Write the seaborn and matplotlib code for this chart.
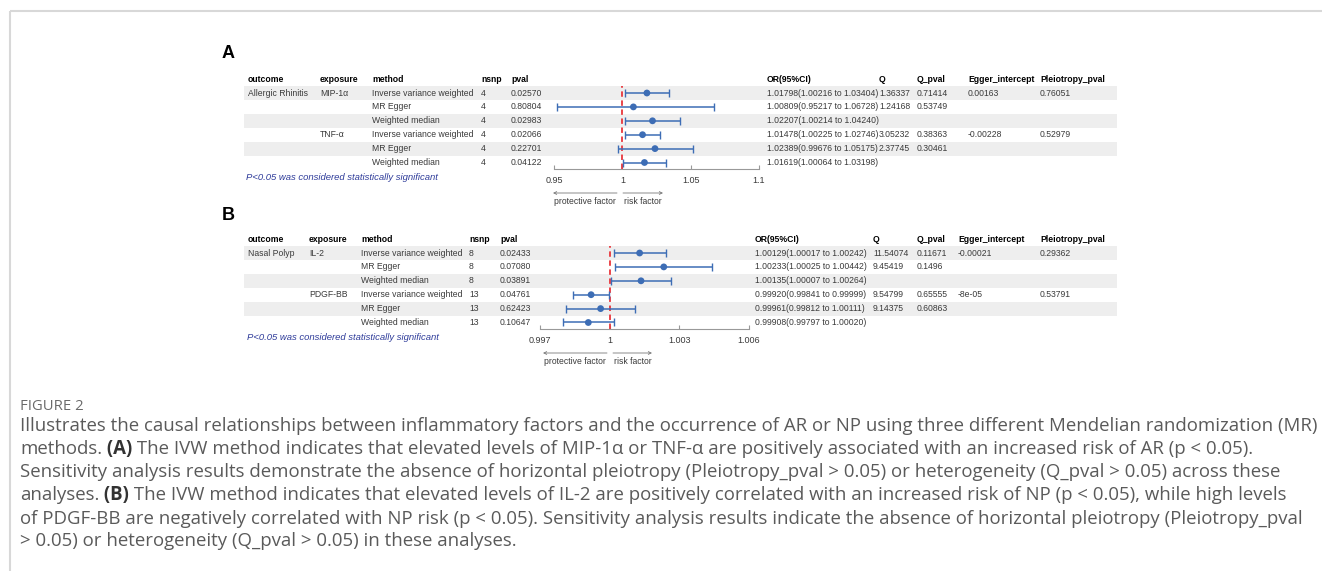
import numpy as np
import pandas as pd
import matplotlib
matplotlib.use("Agg")
import matplotlib.pyplot as plt
import seaborn as sns

# ---------------- data ----------------
# Panel A
a_outcome = ["Allergic Rhinitis", "", "", "", "", ""]
a_exposure = ["MIP-1α", "", "", "TNF-α", "", ""]
a_method = ["Inverse variance weighted", "MR Egger", "Weighted median",
            "Inverse variance weighted", "MR Egger", "Weighted median"]
a_nsnp = ["4", "4", "4", "4", "4", "4"]
a_pval = ["0.02570", "0.80804", "0.02983", "0.02066", "0.22701", "0.04122"]
a_or = [1.01798, 1.00809, 1.02207, 1.01478, 1.02389, 1.01619]
a_lo = [1.00216, 0.95217, 1.00214, 1.00225, 0.99676, 1.00064]
a_hi = [1.03404, 1.06728, 1.04240, 1.02746, 1.05175, 1.03198]
a_q = ["1.36337", "1.24168", "", "3.05232", "2.37745", ""]
a_qp = ["0.71414", "0.53749", "", "0.38363", "0.30461", ""]
a_egger = ["0.00163", "", "", "-0.00228", "", ""]
a_pleio = ["0.76051", "", "", "0.52979", "", ""]
a_ticks = [0.95, 1.0, 1.05, 1.1]
a_ticklabels = ["0.95", "1", "1.05", "1.1"]

# Panel B
b_outcome = ["Nasal Polyp", "", "", "", "", ""]
b_exposure = ["IL-2", "", "", "PDGF-BB", "", ""]
b_method = ["Inverse variance weighted", "MR Egger", "Weighted median",
            "Inverse variance weighted", "MR Egger", "Weighted median"]
b_nsnp = ["8", "8", "8", "13", "13", "13"]
b_pval = ["0.02433", "0.07080", "0.03891", "0.04761", "0.62423", "0.10647"]
b_or = [1.00129, 1.00233, 1.00135, 0.99920, 0.99961, 0.99908]
b_lo = [1.00017, 1.00025, 1.00007, 0.99841, 0.99812, 0.99797]
b_hi = [1.00242, 1.00442, 1.00264, 0.99999, 1.00111, 1.00020]
b_q = ["11.54074", "9.45419", "", "9.54799", "9.14375", ""]
b_qp = ["0.11671", "0.1496", "", "0.65555", "0.60863", ""]
b_egger = ["-0.00021", "", "", "-8e-05", "", ""]
b_pleio = ["0.29362", "", "", "0.53791", "", ""]
b_ticks = [0.997, 1.0, 1.003, 1.006]
b_ticklabels = ["0.997", "1", "1.003", "1.006"]

headers = ["outcome", "exposure", "method", "nsnp", "pval",
           "OR(95%CI)", "Q", "Q_pval", "Egger_intercept", "Pleiotropy_pval"]
footnote = "P<0.05 was considered statistically significant"

caption_title = "FIGURE 2"
caption_lines = [
    [("Illustrates the causal relationships between inflammatory factors and the occurrence of AR or NP using three different Mendelian randomization (MR)", False)],
    [("methods.", False), (" (A)", True),
     (" The IVW method indicates that elevated levels of MIP-1α or TNF-α are positively associated with an increased risk of AR (p < 0.05).", False)],
    [("Sensitivity analysis results demonstrate the absence of horizontal pleiotropy (Pleiotropy_pval > 0.05) or heterogeneity (Q_pval > 0.05) across these", False)],
    [("analyses.", False), (" (B)", True),
     (" The IVW method indicates that elevated levels of IL-2 are positively correlated with an increased risk of NP (p < 0.05), while high levels", False)],
    [("of PDGF-BB are negatively correlated with NP risk (p < 0.05). Sensitivity analysis results indicate the absence of horizontal pleiotropy (Pleiotropy_pval", False)],
    [("> 0.05) or heterogeneity (Q_pval > 0.05) in these analyses.", False)],
]

# ---------------- style ----------------
sns.set_theme(style="white")
plt.rcParams["font.family"] = ["Liberation Sans", "DejaVu Sans"]

W, H, DPI = 1322, 571, 100
fig = plt.figure(figsize=(W / DPI, H / DPI), dpi=DPI)
fig.patch.set_facecolor("white")

ax0 = fig.add_axes([0, 0, 1, 1], zorder=0)
ax0.set_xlim(0, W)
ax0.set_ylim(H, 0)
ax0.axis("off")

BLUE = "#3D6DB5"
RED = "#E8363C"
SHADE = "#EEEEEE"
TXT = "#3A3A3A"
FS = 6.2

# page frame
ax0.plot([10, W], [11, 11], color="#D8D8D8", lw=1.5, solid_capstyle="butt")
ax0.plot([10, 10], [11, H], color="#D8D8D8", lw=1.5, solid_capstyle="butt")


def draw_panel(letter, letter_xy, header_y, row0, dy, cols, data, forest,
               foot_xy, arrows):
    ax0.text(letter_xy[0], letter_xy[1], letter, fontsize=13, fontweight="bold",
             color="black", va="center", ha="left")
    for i in range(0, 6, 2):
        ax0.add_patch(plt.Rectangle((244, row0 + i * dy - dy / 2), 1117 - 244, dy,
                                    facecolor=SHADE, edgecolor="none", zorder=0))
    for h, x in zip(headers, cols):
        ax0.text(x, header_y, h, fontsize=FS, fontweight="bold", color="black",
                 va="center", ha="left")
    outcome, exposure, method, nsnp, pval, orv, lo, hi, q, qp, eg, pl = data
    for i in range(6):
        y = row0 + i * dy
        ci = f"{orv[i]:.5f}({lo[i]:.5f} to {hi[i]:.5f})"
        vals = [outcome[i], exposure[i], method[i], nsnp[i], pval[i], ci,
                q[i], qp[i], eg[i], pl[i]]
        for v, x in zip(vals, cols):
            if v:
                ax0.text(x, y, v, fontsize=FS, color=TXT, va="center", ha="left")
    ax0.text(foot_xy[0], foot_xy[1], footnote, fontsize=6.8, style="italic",
             color="#2F3C9A", va="center", ha="left")

    # forest axes
    x0, x1, xmin, xmax, ticks, tlabels = forest
    axis_y = row0 + 5.5 * dy
    top_y = row0 - 0.5 * dy
    ax = fig.add_axes([x0 / W, 1 - axis_y / H, (x1 - x0) / W, (axis_y - top_y) / H],
                      zorder=2)
    ax.set_facecolor("none")
    rows = np.arange(6)
    df = pd.DataFrame({"OR": orv, "lo": lo, "hi": hi, "row": rows})
    ax.axvline(1.0, color=RED, ls=(0, (3, 2)), lw=1.3, zorder=1)
    ax.errorbar(df["OR"], df["row"],
                xerr=[df["OR"] - df["lo"], df["hi"] - df["OR"]],
                fmt="none", ecolor=BLUE, elinewidth=1.1, capsize=3.0,
                capthick=1.0, zorder=2, clip_on=False)
    sns.scatterplot(data=df, x="OR", y="row", ax=ax, color=BLUE, s=24,
                    edgecolor="none", legend=False, zorder=3, clip_on=False)
    ax.set_xlim(xmin, xmax)
    ax.set_ylim(5.5, -0.5)
    ax.set_xticks(ticks)
    ax.set_xticklabels(tlabels)
    ax.set_yticks([])
    ax.set_xlabel("")
    ax.set_ylabel("")
    for s in ["top", "left", "right"]:
        ax.spines[s].set_visible(False)
    ax.spines["bottom"].set_color("#999999")
    ax.spines["bottom"].set_linewidth(0.8)
    ax.tick_params(axis="x", direction="in", length=3, width=0.8, colors="#999999",
                   labelsize=6.5, labelcolor=TXT, pad=4.5, bottom=True)

    (la0, la1, ra0, ra1, ay, ty) = arrows
    ax0.annotate("", xy=(la0, ay), xytext=(la1, ay),
                 arrowprops=dict(arrowstyle="->", color="#777777", lw=0.6,
                                 mutation_scale=5, shrinkA=0, shrinkB=0))
    ax0.annotate("", xy=(ra1, ay), xytext=(ra0, ay),
                 arrowprops=dict(arrowstyle="->", color="#777777", lw=0.6,
                                 mutation_scale=5, shrinkA=0, shrinkB=0))
    ax0.text((la0 + la1) / 2, ty, "protective factor", fontsize=FS, color=TXT,
             ha="center", va="center")
    ax0.text((ra0 + ra1) / 2, ty, "risk factor", fontsize=FS, color=TXT,
             ha="center", va="center")


draw_panel("A", (222, 53), 79, 93, 13.9,
           [248, 320, 372, 481, 511, 767, 879, 917, 968, 1040],
           (a_outcome, a_exposure, a_method, a_nsnp, a_pval, a_or, a_lo, a_hi,
            a_q, a_qp, a_egger, a_pleio),
           (554, 759, 0.95, 1.1, a_ticks, a_ticklabels),
           (246, 177), (553, 617, 623, 663, 193, 201))

draw_panel("B", (222, 215), 239, 253, 13.9,
           [248, 309, 361, 469, 500, 755, 873, 917, 958, 1040],
           (b_outcome, b_exposure, b_method, b_nsnp, b_pval, b_or, b_lo, b_hi,
            b_q, b_qp, b_egger, b_pleio),
           (540, 749, 0.997, 1.006, b_ticks, b_ticklabels),
           (247, 337), (543, 607, 613, 652, 353, 361))

# ---------------- caption ----------------
CAP_FONT = ["Open Sans", "DejaVu Sans"]
renderer = fig.canvas.get_renderer()
probe = ax0.text(0, 0, caption_lines[0][0][0], fontsize=12, family=CAP_FONT)
pw = probe.get_window_extent(renderer=renderer).width
probe.remove()
cap_fs = 12 * 1290 / pw

ax0.text(20, 407, caption_title, fontsize=cap_fs * 0.8, family=CAP_FONT,
         color="#6A6A6A", va="center", ha="left")

cap_ys = [426, 449, 472, 495, 519, 541]
for segs, y in zip(caption_lines, cap_ys):
    x = 20
    for txt, bold in segs:
        t = ax0.text(x, y, txt, fontsize=cap_fs, family=CAP_FONT,
                     fontweight="bold" if bold else "normal",
                     color="#333333" if bold else "#5A5A5A",
                     va="center", ha="left")
        x += t.get_window_extent(renderer=renderer).width

fig.savefig("out.png", dpi=DPI, facecolor="white")
